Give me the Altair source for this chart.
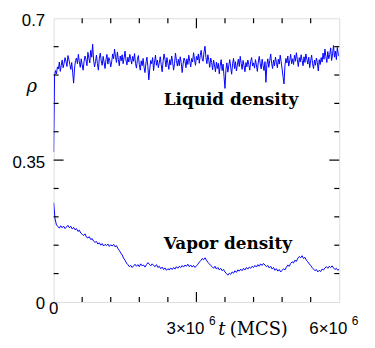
import altair as alt
import pandas as pd

T_MAX = 6e6

# Liquid density, sampled evenly from t=0 to t=6e6
liquid = [0.37,
    0.558, 0.571, 0.563, 0.580, 0.575, 0.592, 0.569, 0.584, 0.597, 0.578,
    0.589, 0.603, 0.594, 0.581, 0.608, 0.599, 0.586, 0.574, 0.591, 0.567,
    0.540, 0.577, 0.596, 0.602, 0.588, 0.611, 0.593, 0.579, 0.600, 0.585,
    0.572, 0.594, 0.607, 0.598, 0.583, 0.616, 0.602, 0.590, 0.621, 0.604,
    0.636, 0.597, 0.580, 0.593, 0.609, 0.588, 0.572, 0.601, 0.614, 0.595,
    0.584, 0.606, 0.592, 0.576, 0.598, 0.611, 0.587, 0.603, 0.596, 0.580,
    0.593, 0.612, 0.600, 0.624, 0.605, 0.591, 0.617, 0.598, 0.583, 0.607,
    0.595, 0.610, 0.588, 0.602, 0.619, 0.597, 0.585, 0.604, 0.592, 0.611,
    0.600, 0.587, 0.606, 0.594, 0.613, 0.589, 0.577, 0.598, 0.608, 0.586,
    0.572, 0.595, 0.583, 0.601, 0.579, 0.566, 0.590, 0.604, 0.581, 0.548,
    0.575, 0.596, 0.588, 0.603, 0.571, 0.592, 0.609, 0.584, 0.597, 0.578,
    0.590, 0.605, 0.586, 0.568, 0.594, 0.612, 0.599, 0.580, 0.603, 0.589,
    0.574, 0.598, 0.585, 0.607, 0.593, 0.572, 0.588, 0.614, 0.596, 0.582,
    0.599, 0.583, 0.605, 0.591, 0.566, 0.587, 0.602, 0.595, 0.578, 0.600,
    0.586, 0.609, 0.594, 0.580, 0.601, 0.592, 0.615, 0.598, 0.584, 0.606,
    0.597, 0.612, 0.589, 0.608, 0.621, 0.600, 0.594, 0.617, 0.631, 0.603,
    0.588, 0.610, 0.596, 0.579, 0.602, 0.591, 0.573, 0.597, 0.585, 0.568,
    0.592, 0.576, 0.589, 0.563, 0.584, 0.598, 0.571, 0.587, 0.556, 0.527,
    0.574, 0.590, 0.567, 0.583, 0.598, 0.579, 0.562, 0.588, 0.601, 0.576,
    0.593, 0.570, 0.585, 0.599, 0.581, 0.606, 0.589, 0.574, 0.596, 0.583,
    0.568, 0.591, 0.580, 0.597, 0.586, 0.572, 0.594, 0.603, 0.582, 0.590,
    0.577, 0.598, 0.585, 0.569, 0.592, 0.606, 0.588, 0.575, 0.599, 0.584,
    0.571, 0.593, 0.542, 0.586, 0.600, 0.579, 0.595, 0.612, 0.589, 0.576,
    0.597, 0.583, 0.604, 0.591, 0.578, 0.599, 0.587, 0.609, 0.593, 0.575,
    0.556, 0.538, 0.584, 0.601, 0.590, 0.607, 0.582, 0.596, 0.611, 0.588,
    0.600, 0.586, 0.609, 0.594, 0.615, 0.598, 0.581, 0.603, 0.592, 0.610,
    0.596, 0.583, 0.605, 0.591, 0.612, 0.599, 0.587, 0.604, 0.578, 0.595,
    0.609, 0.588, 0.576, 0.597, 0.584, 0.602, 0.591, 0.570, 0.598, 0.586,
    0.603, 0.592, 0.614, 0.599, 0.624, 0.605, 0.591, 0.618, 0.600, 0.610,
    0.627, 0.596, 0.612, 0.633, 0.604, 0.619, 0.598, 0.628, 0.611, 0.606]

# Vapor density, sampled evenly from t=0 to t=6e6
vapor = [0.245,
    0.205, 0.190, 0.186, 0.182, 0.188, 0.183, 0.187, 0.181, 0.185, 0.189,
    0.183, 0.187, 0.180, 0.184, 0.178, 0.181, 0.174, 0.177, 0.170, 0.167,
    0.164, 0.168, 0.160, 0.158, 0.161, 0.154, 0.156, 0.150, 0.147, 0.149,
    0.143, 0.146, 0.140, 0.144, 0.138, 0.142, 0.139, 0.143, 0.137, 0.141,
    0.138, 0.142, 0.136, 0.139, 0.132, 0.127, 0.121, 0.116, 0.108, 0.103,
    0.096, 0.092, 0.087, 0.090, 0.085, 0.089, 0.093, 0.088, 0.092, 0.087,
    0.094, 0.089, 0.091, 0.086, 0.092, 0.097, 0.093, 0.089, 0.094, 0.090,
    0.087, 0.092, 0.085, 0.088, 0.082, 0.086, 0.080, 0.084, 0.078, 0.082,
    0.079, 0.084, 0.080, 0.085, 0.081, 0.087, 0.083, 0.088, 0.085, 0.090,
    0.086, 0.091, 0.088, 0.093, 0.087, 0.091, 0.086, 0.090, 0.085, 0.089,
    0.093, 0.098, 0.102, 0.107, 0.104, 0.109, 0.103, 0.098, 0.094, 0.090,
    0.087, 0.083, 0.088, 0.081, 0.085, 0.079, 0.083, 0.077, 0.080, 0.074,
    0.070, 0.066, 0.071, 0.068, 0.074, 0.071, 0.077, 0.073, 0.079, 0.076,
    0.081, 0.077, 0.083, 0.079, 0.085, 0.081, 0.086, 0.083, 0.088, 0.085,
    0.090, 0.086, 0.092, 0.088, 0.094, 0.090, 0.095, 0.091, 0.087, 0.090,
    0.084, 0.088, 0.081, 0.085, 0.078, 0.082, 0.076, 0.080, 0.074, 0.078,
    0.082, 0.079, 0.086, 0.091, 0.088, 0.095, 0.099, 0.096, 0.103, 0.100,
    0.108, 0.112, 0.109, 0.114, 0.107, 0.110, 0.103, 0.099, 0.094, 0.090,
    0.085, 0.081, 0.077, 0.080, 0.074, 0.078, 0.075, 0.081, 0.079, 0.084,
    0.087, 0.083, 0.088, 0.085, 0.089, 0.084, 0.080, 0.083, 0.078, 0.081]

x_major_ticks = [3e6]
x_minor_ticks = [0.6e6, 1.2e6, 1.8e6, 2.4e6, 3.6e6, 4.2e6, 4.8e6, 5.4e6]
y_major_ticks = [0.35]
y_minor_ticks = [0.07, 0.14, 0.21, 0.28, 0.42, 0.49, 0.56, 0.63]
y_labels = [0, 0.35, 0.7]
x_label_pos = [0, 3e6, 6e6]
x_label_text = ["0", "3×10", "6×10"]
x_label_exp = ["", "6", "6"]

W, H = 288, 286
BLUE = "#0000ff"

rows = []
for name, vals in (("Liquid", liquid), ("Vapor", vapor)):
    n = len(vals)
    for i, v in enumerate(vals):
        rows.append({"t": i * T_MAX / (n - 1), "rho": v, "series": name})
df = pd.DataFrame(rows)

xs = alt.Scale(domain=[0, T_MAX], nice=False, zero=False)
ys = alt.Scale(domain=[0, 0.7], nice=False, zero=False)

lines = alt.Chart(df).mark_line(color=BLUE, strokeWidth=1, clip=True).encode(
    x=alt.X("t:Q", scale=xs, axis=None),
    y=alt.Y("rho:Q", scale=ys,
            axis=alt.Axis(values=y_labels, ticks=False, domain=False, grid=False,
                          labelFont="Liberation Sans", labelFontSize=17,
                          labelColor="black", labelPadding=9, labelOffset=2,
                          title=None, format=".2~f")),
    detail="series:N",
)

def xticks(vals, length):
    d = pd.DataFrame({"t": vals})
    bottom = alt.Chart(d).mark_rule(color="black", strokeWidth=1.2).encode(
        x=alt.X("t:Q", scale=xs), y=alt.value(H), y2=alt.value(H - length))
    top = alt.Chart(d).mark_rule(color="black", strokeWidth=1.2).encode(
        x=alt.X("t:Q", scale=xs), y=alt.value(0), y2=alt.value(length))
    return bottom + top

def yticks(vals, length):
    d = pd.DataFrame({"v": vals})
    left = alt.Chart(d).mark_rule(color="black", strokeWidth=1.2).encode(
        y=alt.Y("v:Q", scale=ys), x=alt.value(0), x2=alt.value(length))
    right = alt.Chart(d).mark_rule(color="black", strokeWidth=1.2).encode(
        y=alt.Y("v:Q", scale=ys), x=alt.value(W), x2=alt.value(W - length))
    return left + right

ticks = xticks(x_major_ticks, 10) + xticks(x_minor_ticks, 5) + \
    yticks(y_major_ticks, 10) + yticks(y_minor_ticks, 5)

xl = pd.DataFrame({"t": x_label_pos, "txt": x_label_text, "exp": x_label_exp})
zero_lbl = alt.Chart(xl.iloc[:1]).mark_text(
    font="Liberation Sans", fontSize=17, align="center", baseline="alphabetic",
    color="black").encode(x=alt.X("t:Q", scale=xs), y=alt.value(H + 12), text="txt:N")
main_lbl = alt.Chart(xl.iloc[1:]).mark_text(
    font="Liberation Sans", fontSize=17, align="center", baseline="alphabetic",
    dx=-11, color="black").encode(x=alt.X("t:Q", scale=xs), y=alt.value(H + 32), text="txt:N")
exp_lbl = alt.Chart(xl.iloc[1:]).mark_text(
    font="Liberation Sans", fontSize=12, align="center", baseline="alphabetic",
    dx=16, color="black").encode(x=alt.X("t:Q", scale=xs), y=alt.value(H + 23), text="exp:N")

ann = pd.DataFrame({"t": [2.3125e6, 2.3125e6], "v": [0.487, 0.13],
                    "txt": ["Liquid density", "Vapor density"]})
ann_lbl = alt.Chart(ann).mark_text(
    font="DejaVu Serif", fontSize=17, fontWeight="bold", align="left",
    baseline="alphabetic", color="black").encode(
    x=alt.X("t:Q", scale=xs), y=alt.Y("v:Q", scale=ys), text="txt:N")

t_lbl = alt.Chart(pd.DataFrame({"t": [3.46e6], "txt": ["t"]})).mark_text(
    font="DejaVu Serif", fontSize=18, fontStyle="italic", align="left",
    baseline="alphabetic", color="black").encode(
    x=alt.X("t:Q", scale=xs), y=alt.value(H + 33), text="txt:N")
mcs_lbl = alt.Chart(pd.DataFrame({"t": [3.70e6], "txt": ["(MCS)"]})).mark_text(
    font="DejaVu Serif", fontSize=18, align="left",
    baseline="alphabetic", color="black").encode(
    x=alt.X("t:Q", scale=xs), y=alt.value(H + 33), text="txt:N")

rho_lbl = alt.Chart(pd.DataFrame({"v": [0.53], "txt": ["ρ"]})).mark_text(
    font="DejaVu Serif", fontSize=18, fontStyle="italic", align="center",
    baseline="middle", color="black").encode(
    x=alt.value(-22), y=alt.Y("v:Q", scale=ys), text="txt:N")

chart = alt.layer(lines, ticks, zero_lbl, main_lbl, exp_lbl, ann_lbl, t_lbl,
                  mcs_lbl, rho_lbl).properties(
    width=W, height=H,
    autosize=alt.AutoSizeParams(type="none"),
    padding={"left": 46, "top": 9, "right": 28, "bottom": 36},
).configure_view(stroke="black", strokeWidth=1.6).configure(background="white")

chart.save("out.html", embed_options={"renderer": "svg", "actions": False})
